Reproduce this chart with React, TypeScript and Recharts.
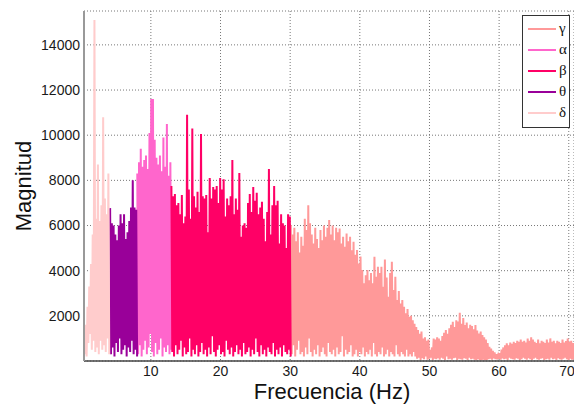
import { LineChart, Line, XAxis, YAxis, CartesianGrid, Label } from "recharts";

/* ── Spectrum bins: peak (hi) and trough (lo) magnitude every 0.25 Hz ── */
const STEP = 0.25;

const deltaStart = 0.4;
const deltaHi = [1000, 1600, 2400, 3300, 4300, 5600, 15100, 6300, 8700, 6200, 6900, 10800, 7200, 6500, 8300];
const deltaLo = [300, 200, 800, 1200, 500, 900, 400, 600, 300, 900, 500, 700, 400, 1000, 300];

const thetaStart = 4.15;
const thetaHi = [6770, 6100, 6000, 5600, 5350, 6000, 6500, 6100, 6500, 5400, 5700, 6200, 6800, 8000, 6800, 6700];
const thetaLo = [300, 600, 200, 800, 400, 1000, 300, 500, 700, 200, 600, 400, 900, 300, 500, 200];

const alphaStart = 8.05;
const alphaHi = [8300, 8800, 9400, 8600, 8900, 9100, 8500, 10100, 11600, 11600, 9800, 9000, 8700, 9100, 8400, 9900, 8600, 10500, 8200, 8800];
const alphaLo = [300, 700, 200, 500, 900, 300, 600, 1200, 400, 200, 800, 300, 500, 1000, 200, 600, 400, 700, 300, 500];

const betaStart = 12.95;
const betaHi = [
    7750, 7300, 7400, 6900, 7000, 6500, 7350, 6100, 6400, 10900,
    7600, 6300, 10300, 7300, 6800, 7500, 6600, 10050, 7300, 7200,
    7350, 5700, 8100, 7200, 7700, 7600, 7750, 7000, 8100, 7600,
    8050, 6400, 7200, 6900, 7300, 8900, 6500, 7200, 6700, 8330,
    5500, 6000, 6100, 5900, 7000, 7400, 6600, 7700, 7100, 7450,
    6500, 6800, 7050, 6300, 5300, 6600, 8500, 5600, 6900, 7750,
    6900, 7100, 5200, 6500, 6100, 6000, 5000, 6500, 6400,
];
const betaLo = [
    400, 200, 700, 300, 500, 900, 200, 600, 300, 400,
    1000, 200, 500, 300, 700, 200, 400, 800, 300, 500,
    200, 600, 300, 1100, 400, 200, 500, 700, 300, 400,
    200, 900, 500, 300, 600, 200, 400, 700, 300, 500,
    200, 800, 300, 400, 600, 200, 500, 300, 1000, 400,
    200, 700, 300, 500, 200, 600, 400, 300, 800, 200,
    500, 300, 600, 200, 700, 400, 300, 500, 200,
];

const gammaStart = 30.1;
const gammaHi = [
    6020, 5600, 5900, 5300, 5700, 4800, 5500, 5100, 6300, 5800, 6900, 6100,
    5600, 5200, 5900, 5400, 5000, 5800, 5350, 6000, 5500, 5900, 6240, 5600,
    6000, 5350, 5900, 5700, 5870, 5200, 5500, 5060, 5650, 5300, 5500, 4900,
    5280, 4700, 4910, 4320, 4630, 4030, 3440, 3800, 4030, 3580, 3900, 3440,
    4620, 3730, 4170, 3900, 4170, 3290, 4500, 3700, 2850, 3900, 4400, 3140,
    3730, 2700, 3100, 2550, 2700, 2400, 2110, 2300, 1960, 2000, 1800, 1650,
    1500, 1370, 1200, 1300, 1000, 1050, 900, 950, 490, 600, 1000, 950,
    1050, 1000, 900, 1100, 1250, 1370, 1200, 1450, 1600, 1740, 1500, 1800,
    1750, 2140, 1650, 1900, 1590, 1700, 1450, 1600, 1550, 1400, 1590, 1350,
    1220, 1300, 1150, 1050, 950, 800, 630, 550, 450, 380, 300, 265,
    350, 500, 600, 700, 780, 700, 820, 760, 850, 800, 900, 850,
    950, 850, 900, 820, 1000, 900, 1050, 950, 850, 800, 950, 780,
    900, 850, 800, 950, 820, 1000, 850, 900, 780, 900, 850, 800,
    950, 820, 880, 1000, 850, 900, 800,
];
const gammaLo = [
    300, 700, 200, 500, 900, 300, 400, 200, 600, 300,
    1000, 400, 200, 500, 300, 700, 200, 400, 600, 300,
    200, 800, 400, 300, 500, 200, 600, 300, 400, 1100,
    200, 500, 300, 400, 700, 200, 300, 500, 200, 400,
    300, 600, 200, 400, 300, 500, 200, 800, 300, 200,
    400, 300, 600, 200, 300, 500, 200, 400, 300, 200,
    700, 300, 200, 400, 300, 200, 500, 200, 300, 200,
    400, 200,
    100, 150, 50, 120, 80, 200, 60, 100, 150, 50,
    100, 80, 120, 60, 150, 100, 50, 200, 80, 100,
    60, 120, 150, 50, 100, 80, 60, 120, 100, 50,
    150, 80, 100, 60, 40, 80, 50, 30, 60, 40,
    50, 80, 100, 60, 120, 80, 150, 100, 60, 120,
    80, 100, 50, 150, 100, 80, 60, 120, 100, 50,
    80, 150, 100, 60, 120, 80, 50, 100, 150, 80,
    60, 100, 120, 50, 80, 100, 60, 150, 80, 100,
    50, 120, 80, 60, 100, 150, 80, 50, 100, 60,
    80,
];

const xTicks = [10, 20, 30, 40, 50, 60, 70];
const yTicks = [2000, 4000, 6000, 8000, 10000, 12000, 14000];

// zig-zag each bin between its peak and trough, like the raw FFT trace
function bandPoints(start: number, hi: number[], lo: number[]) {
    const pts: { f: number; m: number }[] = [];
    hi.forEach((h, i) => {
        const f = start + i * STEP;
        pts.push({ f, m: h });
        if (lo[i] !== undefined) pts.push({ f: f + STEP / 2, m: lo[i] });
    });
    return pts;
}

const bands = [
    { key: "gamma", label: "γ", color: "#ff9999", data: bandPoints(gammaStart, gammaHi, gammaLo) },
    { key: "alpha", label: "α", color: "#ff66cc", data: bandPoints(alphaStart, alphaHi, alphaLo) },
    { key: "beta", label: "β", color: "#ff0066", data: bandPoints(betaStart, betaHi, betaLo) },
    { key: "theta", label: "θ", color: "#990099", data: bandPoints(thetaStart, thetaHi, thetaLo) },
    { key: "delta", label: "δ", color: "#ffcccc", data: bandPoints(deltaStart, deltaHi, deltaLo) },
];

const font = '"Liberation Sans", Arial, sans-serif';
const tick = { fill: "#1a1a1a", fontSize: 14, fontFamily: font };

/* ── Legend box (top right, line swatches + greek labels) ── */
function BandLegend() {
    return (
        <div
            style={{
                position: "absolute",
                left: 522,
                top: 15,
                width: 46,
                height: 109,
                border: "1px solid #333",
                background: "#fff",
                paddingTop: 2,
            }}
        >
            {bands.map((b) => (
                <div key={b.key} style={{ height: 21, display: "flex", alignItems: "center" }}>
                    <div style={{ marginLeft: 5, width: 28, height: 2, background: b.color }} />
                    <span
                        style={{
                            marginLeft: 3,
                            fontFamily: '"Liberation Serif", "DejaVu Serif", serif',
                            fontSize: 15,
                            color: "#111",
                            lineHeight: "21px",
                        }}
                    >
                        {b.label}
                    </span>
                </div>
            ))}
        </div>
    );
}

export default function App() {
    return (
        <div style={{ position: "absolute", left: 0, top: 0, width: 574, height: 404, background: "#fff", overflow: "hidden" }}>
            <LineChart width={574} height={404} margin={{ top: 11, right: 0, bottom: 0, left: 0 }}>
                <CartesianGrid stroke="#777" strokeDasharray="1 2" />
                <XAxis
                    type="number"
                    dataKey="f"
                    domain={[0.4, 70.75]}
                    ticks={xTicks}
                    allowDataOverflow
                    height={43}
                    tick={tick}
                    tickLine={false}
                    tickSize={4}
                    tickMargin={1}
                    axisLine={{ stroke: "#444", strokeWidth: 1.5 }}
                >
                    <Label
                        value="Frecuencia (Hz)"
                        position="insideBottom"
                        offset={5}
                        dx={3}
                        style={{ fontSize: 22, fontFamily: font, fill: "#111" }}
                    />
                </XAxis>
                <YAxis
                    type="number"
                    domain={[0, 15500]}
                    ticks={yTicks}
                    allowDataOverflow
                    width={84}
                    tick={tick}
                    tickLine={false}
                    tickSize={4}
                    tickMargin={0}
                    axisLine={{ stroke: "#999", strokeWidth: 2 }}
                >
                    <Label
                        content={() => (
                            <text
                                x={23}
                                y={186}
                                transform="rotate(-90 23 186)"
                                textAnchor="middle"
                                dominantBaseline="central"
                                fontSize={22}
                                fontFamily={font}
                                fill="#111"
                            >
                                Magnitud
                            </text>
                        )}
                    />
                </YAxis>
                {bands.map((b) => (
                    <Line
                        key={b.key}
                        data={b.data}
                        dataKey="m"
                        type="linear"
                        stroke={b.color}
                        strokeWidth={2}
                        dot={false}
                        activeDot={false}
                        isAnimationActive={false}
                    />
                ))}
            </LineChart>
            <BandLegend />
        </div>
    );
}
